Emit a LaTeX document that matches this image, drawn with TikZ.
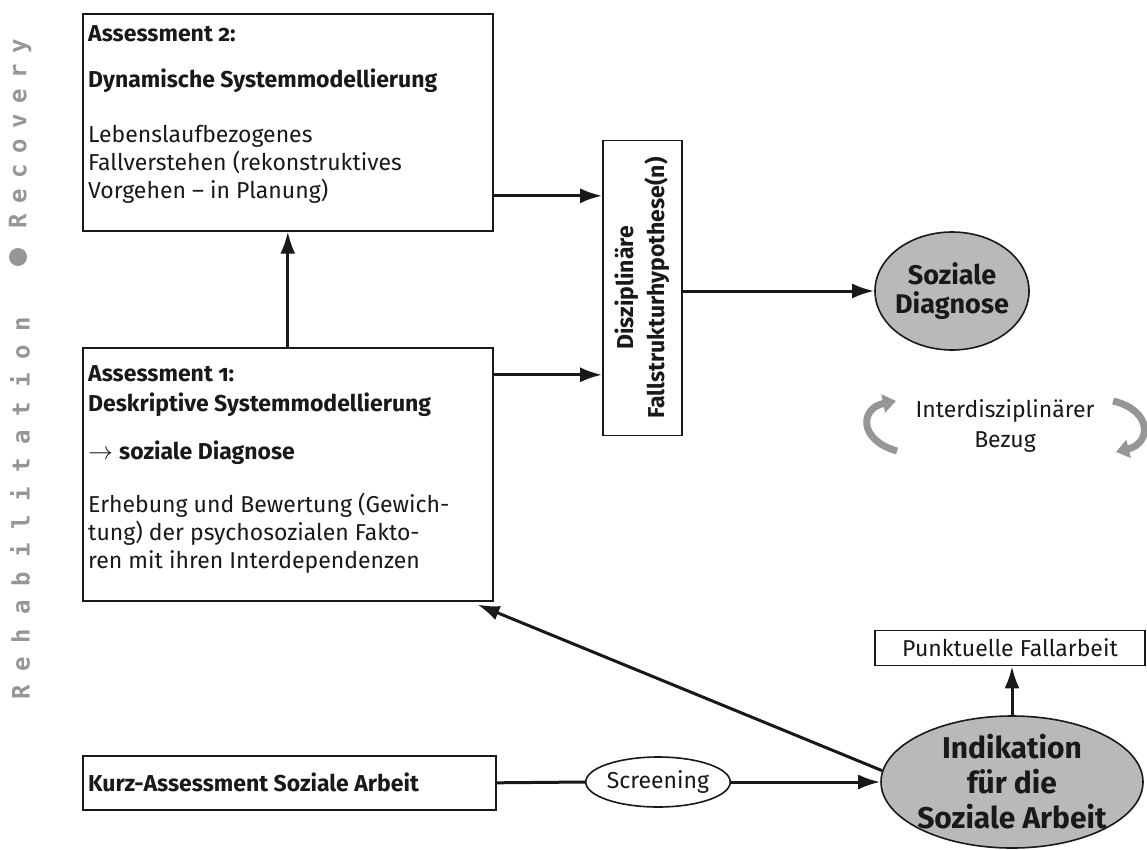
\documentclass[tikz,border=0pt]{standalone}
\usepackage{fontspec}
\setmainfont{Fira Sans}[Numbers=OldStyle]
\newfontfamily\sidefontA[LetterSpace=58]{DejaVu Sans Mono}
\newfontfamily\sidefontB[LetterSpace=44]{DejaVu Sans Mono}
\usetikzlibrary{arrows.meta,shapes.geometric}
\definecolor{ink}{RGB}{25,25,25}
\definecolor{ovalgray}{RGB}{185,185,185}
\definecolor{sidegray}{RGB}{150,150,150}
\definecolor{arcgray}{RGB}{150,150,150}
\tikzset{
  box/.style={draw=ink, line width=1.6pt, fill=white, inner sep=0pt},
  txt/.style={align=left, inner sep=0pt, text=ink, font=\fontsize{23}{28}\selectfont},
  conn/.style={draw=ink, line width=3pt, -{Latex[length=22pt,width=15pt]}},
  plain/.style={draw=ink, line width=3pt},
  oval/.style={ellipse, draw=ink, line width=1.6pt, fill=ovalgray, inner sep=0pt},
  garc/.style={draw=arcgray, line width=7pt, -{Triangle[length=13pt,width=18pt]}},
  sidetxt/.style={rotate=90, anchor=west, inner sep=0pt, text=sidegray}
}
\begin{document}
\begin{tikzpicture}[x=1pt,y=-1pt]
\useasboundingbox (0,0) rectangle (1147,849);

% side strip
\node[sidetxt, font=\sidefontA\bfseries\fontsize{24}{24}\selectfont] (rehab) at (20,700) {Rehabilitation};
\node[circle, fill=sidegray, minimum size=18pt, inner sep=0pt] (dot) at (18,257) {};
\node[sidetxt, font=\sidefontB\bfseries\fontsize{24}{24}\selectfont] (recov) at (20,229) {Recovery};

% Assessment 2
\node[box, anchor=north west, minimum width=410pt, minimum height=217pt] (a2) at (82,13) {};
\node[txt, anchor=north west] (a2t) at ([xshift=6pt,yshift=-12.5pt]a2.north west)
 {{\bfseries Assessment 2:}\\[18pt]
  {\bfseries Dynamische Systemmodellierung}\\[27pt]
  Lebenslaufbezogenes\\
  Fallverstehen (rekonstruktives\\
  Vorgehen -- in Planung)};

% Assessment 1
\node[box, anchor=north west, minimum width=410pt, minimum height=253pt] (a1) at (82,347) {};
\node[txt, anchor=north west] (a1t) at ([xshift=6pt,yshift=-18.5pt]a1.north west)
 {{\bfseries Assessment 1:}\\[2pt]
  {\bfseries Deskriptive Systemmodellierung}\\[20pt]
  $\rightarrow$ {\bfseries soziale Diagnose}\\[25pt]
  Erhebung und Bewertung (Gewich-\\
  tung) der psychosozialen Fakto-\\
  ren mit ihren Interdependenzen};

% Kurz-Assessment
\node[box, anchor=north west, minimum width=413pt, minimum height=54pt] (kurz) at (82,755) {};
\node[txt, anchor=west, font=\bfseries\fontsize{23}{28}\selectfont] (kurzt) at ([xshift=6pt]kurz.west) {Kurz-Assessment Soziale Arbeit};

% Disziplinaere Fallstrukturhypothese
\node[box, minimum width=79pt, minimum height=295pt] (disz) at (642.5,288) {};
\node[rotate=90, align=center, inner sep=0pt, text=ink, font=\bfseries\fontsize{23}{31}\selectfont] (diszt) at (disz.center) {Disziplinäre\\Fallstrukturhypothese(n)};

% Soziale Diagnose
\node[oval, minimum width=154pt, minimum height=118pt] (sd) at (952,291) {};
\node[align=center, inner sep=0pt, text=ink, font=\bfseries\fontsize{27}{29}\selectfont] (sdt) at (sd.center) {Soziale\\Diagnose};

% Interdisziplinaerer Bezug
\node[align=center, inner sep=0pt, text=ink, font=\fontsize{23}{30}\selectfont] (inter) at (1005,426) {Interdisziplinärer\\Bezug};
\draw[garc] (897,451) .. controls (858,440) and (860,408) .. (896,401);
\draw[garc] (1113,401) .. controls (1152,410) and (1152,443) .. (1116,452);

% Indikation
\node[oval, minimum width=262pt, minimum height=132pt] (ind) at (1012,782) {};
\node[align=center, inner sep=0pt, text=ink, font=\bfseries\fontsize{30}{35}\selectfont] (indt) at (ind.center) {Indikation\\für die\\Soziale Arbeit};

% Punktuelle Fallarbeit
\node[box, minimum width=270pt, minimum height=35pt, text=ink, font=\fontsize{23}{28}\selectfont] (punkt) at (1010,648) {Punktuelle Fallarbeit};

% Screening
\node[ellipse, draw=ink, line width=1.6pt, fill=white, minimum width=132pt, minimum height=50pt, inner sep=0pt, text=ink, font=\fontsize{23}{28}\selectfont] (scr) at (658,782) {Screening};

% connectors
\coordinate (a2out) at ([yshift=-73.5pt]a2.east);
\coordinate (a1out) at ([yshift=99.5pt]a1.east);
\coordinate (a1tip) at ([xshift=-16pt,yshift=-3pt]a1.south east);
\draw[conn] (a1.north) -- (a2.south);
\draw[conn] (a2out) -- (a2out -| disz.west);
\draw[conn] (a1out) -- (a1out -| disz.west);
\draw[conn] (disz.east |- sd.west) -- (sd.west);
\draw[plain] (kurz.east) -- (scr.west);
\draw[conn] (scr.east) -- (ind.west);
\draw[conn] (ind.175) -- (a1tip);
\draw[conn] (ind.north) -- (ind.north |- punkt.south);
\end{tikzpicture}
\end{document}
